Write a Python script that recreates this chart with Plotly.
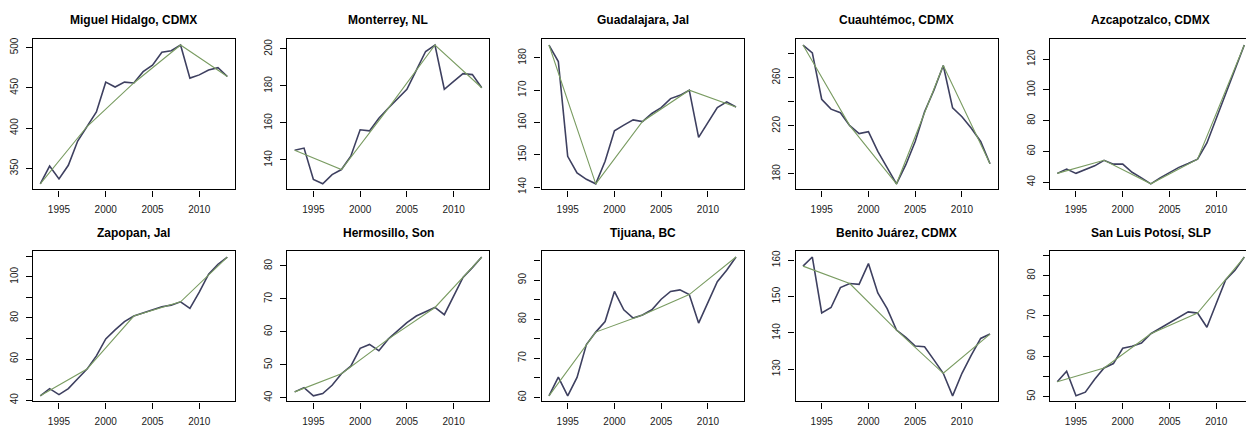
import plotly.graph_objects as go

YEARS = list(range(1993, 2014))
FIT_YEARS = [1993, 1998, 2003, 2008, 2013]

TITLES = [
    "Miguel Hidalgo, CDMX", "Monterrey, NL", "Guadalajara, Jal",
    "Cuauhtémoc, CDMX", "Azcapotzalco, CDMX",
    "Zapopan, Jal", "Hermosillo, Son", "Tijuana, BC",
    "Benito Juárez, CDMX", "San Luis Potosí, SLP",
]

miguel_hidalgo = [331, 353, 337, 354, 384, 402, 420, 457, 451, 457, 456, 470,
                  478, 494, 496, 503, 462, 466, 472, 475, 464]
monterrey = [145.2, 146.4, 129.5, 127.1, 132.1, 134.8, 142.0, 156.3, 155.7, 162.5,
             167.9, 173.2, 178.2, 188.4, 198.6, 202.1, 178.2, 182.5, 186.6, 186.1, 179.0]
guadalajara = [184.0, 178.9, 149.5, 144.4, 142.4, 141.0, 148.0, 157.4, 159.2, 160.8,
               160.3, 162.8, 164.6, 167.4, 168.4, 170.0, 155.4, 160.1, 164.6, 166.4, 164.8]
cuauhtemoc = [287.2, 280.6, 242.1, 233.9, 230.9, 220.2, 213.6, 215.2, 198.7, 185.0,
              171.8, 187.7, 207.0, 231.7, 249.6, 270.2, 235.0, 227.6, 218.0, 207.0, 188.5]
azcapotzalco = [45.7, 48.5, 45.7, 47.9, 50.6, 54.2, 51.7, 51.7, 46.4, 42.8,
                38.9, 42.8, 46.4, 49.6, 52.1, 54.9, 65.5, 81.4, 98.4, 113.2, 129.2]
zapopan = [42.1, 45.6, 42.7, 45.6, 50.4, 55.1, 61.5, 69.8, 74.2, 78.2,
           80.9, 82.5, 83.8, 85.4, 86.2, 87.8, 84.6, 92.5, 101.3, 106.1, 109.6]
hermosillo = [41.8, 43.1, 40.6, 41.3, 43.8, 47.3, 49.6, 55.0, 56.2, 54.3,
              57.8, 60.3, 62.8, 64.8, 66.0, 67.4, 65.2, 70.7, 76.5, 79.5, 82.7]
tijuana = [60.4, 65.2, 60.4, 65.1, 73.5, 76.7, 79.4, 87.1, 82.4, 80.3,
           81.1, 82.4, 85.1, 87.1, 87.5, 86.3, 79.0, 84.1, 89.6, 92.5, 95.9]
benito_juarez = [158.4, 160.9, 145.5, 147.0, 152.5, 153.6, 153.4, 159.1, 151.0, 146.7,
                 140.8, 138.8, 136.4, 136.2, 132.6, 128.9, 122.7, 128.9, 133.9, 138.5, 139.7]
san_luis_potosi = [53.7, 56.3, 50.2, 51.1, 54.3, 57.1, 58.2, 62.0, 62.5, 63.3,
                   65.6, 67.0, 68.2, 69.8, 71.0, 70.7, 67.2, 73.1, 78.9, 81.3, 84.6]

SERIES = [miguel_hidalgo, monterrey, guadalajara, cuauhtemoc, azcapotzalco,
          zapopan, hermosillo, tijuana, benito_juarez, san_luis_potosi]

X_TICKS = [1995, 2000, 2005, 2010]

Y_TICKS = [
    [350, 400, 450, 500],
    [140, 160, 180, 200],
    [140, 150, 160, 170, 180],
    [180, 200, 220, 240, 260, 280],
    [40, 60, 80, 100, 120],
    [40, 50, 60, 70, 80, 90, 100, 110],
    [40, 50, 60, 70, 80],
    [60, 65, 70, 75, 80, 85, 90, 95],
    [130, 140, 150, 160],
    [50, 55, 60, 65, 70, 75, 80, 85],
]
Y_LABELS = [
    ["350", "400", "450", "500"],
    ["140", "160", "180", "200"],
    ["140", "150", "160", "170", "180"],
    ["180", "", "220", "", "260", ""],
    ["40", "60", "80", "100", "120"],
    ["40", "", "60", "", "80", "", "100", ""],
    ["40", "50", "60", "70", "80"],
    ["60", "", "70", "", "80", "", "90", ""],
    ["130", "140", "150", "160"],
    ["50", "", "60", "", "70", "", "80", ""],
]

W, H = 1246, 432
LEFTS = [32.8, 287.2, 541.5, 795.5, 1049.8]
PW = 202
ROWS = [(38, 190), (253, 405)]
TITLE_Y = [18, 234]

DATA_COLOR = "#3e4060"
FIT_COLOR = "#7a9c62"
FONT = "Liberation Sans, Arial, sans-serif"

fig = go.Figure()
layout = {}
annotations = []

for i, (title, vals) in enumerate(zip(TITLES, SERIES)):
    r, c = divmod(i, 5)
    n = i + 1
    xa = "x" if n == 1 else f"x{n}"
    ya = "y" if n == 1 else f"y{n}"
    fit_x = [y for y in YEARS if y in FIT_YEARS]
    fit_y = [v for y, v in zip(YEARS, vals) if y in FIT_YEARS]

    fig.add_trace(go.Scatter(x=YEARS, y=vals, mode="lines", xaxis=xa, yaxis=ya,
                             line=dict(color=DATA_COLOR, width=1.6), showlegend=False,
                             hoverinfo="x+y"))
    fig.add_trace(go.Scatter(x=fit_x, y=fit_y, mode="lines", xaxis=xa, yaxis=ya,
                             line=dict(color=FIT_COLOR, width=1.1), showlegend=False,
                             hoverinfo="x+y"))

    x0 = LEFTS[c]
    top, bot = ROWS[r]
    lo, hi = min(vals), max(vals)
    pad = 0.04 * (hi - lo)
    xpad = 0.04 * (YEARS[-1] - YEARS[0])
    xlo, xhi = YEARS[0] - xpad, YEARS[-1] + xpad
    x1 = x0 + PW
    clipped = x1 > W
    if clipped:
        # panel extends past the picture edge: keep the same scale, cut the range
        xhi = xlo + (xhi - xlo) * (W - x0) / PW
        x1 = W

    axis_common = dict(showline=True, linecolor="black", linewidth=1.4,
                       ticks="outside", ticklen=6, tickwidth=1.1, tickcolor="black",
                       showgrid=False, zeroline=False,
                       tickfont=dict(family=FONT, size=10, color="#1a1a1a"))
    layout["xaxis" if n == 1 else f"xaxis{n}"] = dict(
        domain=[x0 / W, x1 / W], anchor=ya, mirror=True,
        range=[xlo, xhi],
        tickmode="array", tickvals=X_TICKS, ticktext=[str(t) for t in X_TICKS],
        ticklabelstandoff=4, **axis_common)
    layout["yaxis" if n == 1 else f"yaxis{n}"] = dict(
        domain=[1 - bot / H, 1 - top / H], anchor=xa, mirror=not clipped,
        range=[lo - pad, hi + pad],
        tickmode="array", tickvals=Y_TICKS[i], ticktext=Y_LABELS[i],
        tickangle=-90, ticklabelstandoff=4, **axis_common)

    annotations.append(dict(text=f"<b>{title}</b>", xref="paper", yref="paper",
                            x=(x0 + PW / 2) / W, y=1 - TITLE_Y[r] / H,
                            xanchor="center", yanchor="middle", showarrow=False,
                            font=dict(family=FONT, size=12, color="black")))

fig.update_layout(width=W, height=H, autosize=False,
                  margin=dict(l=0, r=0, t=0, b=0),
                  paper_bgcolor="white", plot_bgcolor="white",
                  annotations=annotations, **layout)

fig.write_html("out.html")
